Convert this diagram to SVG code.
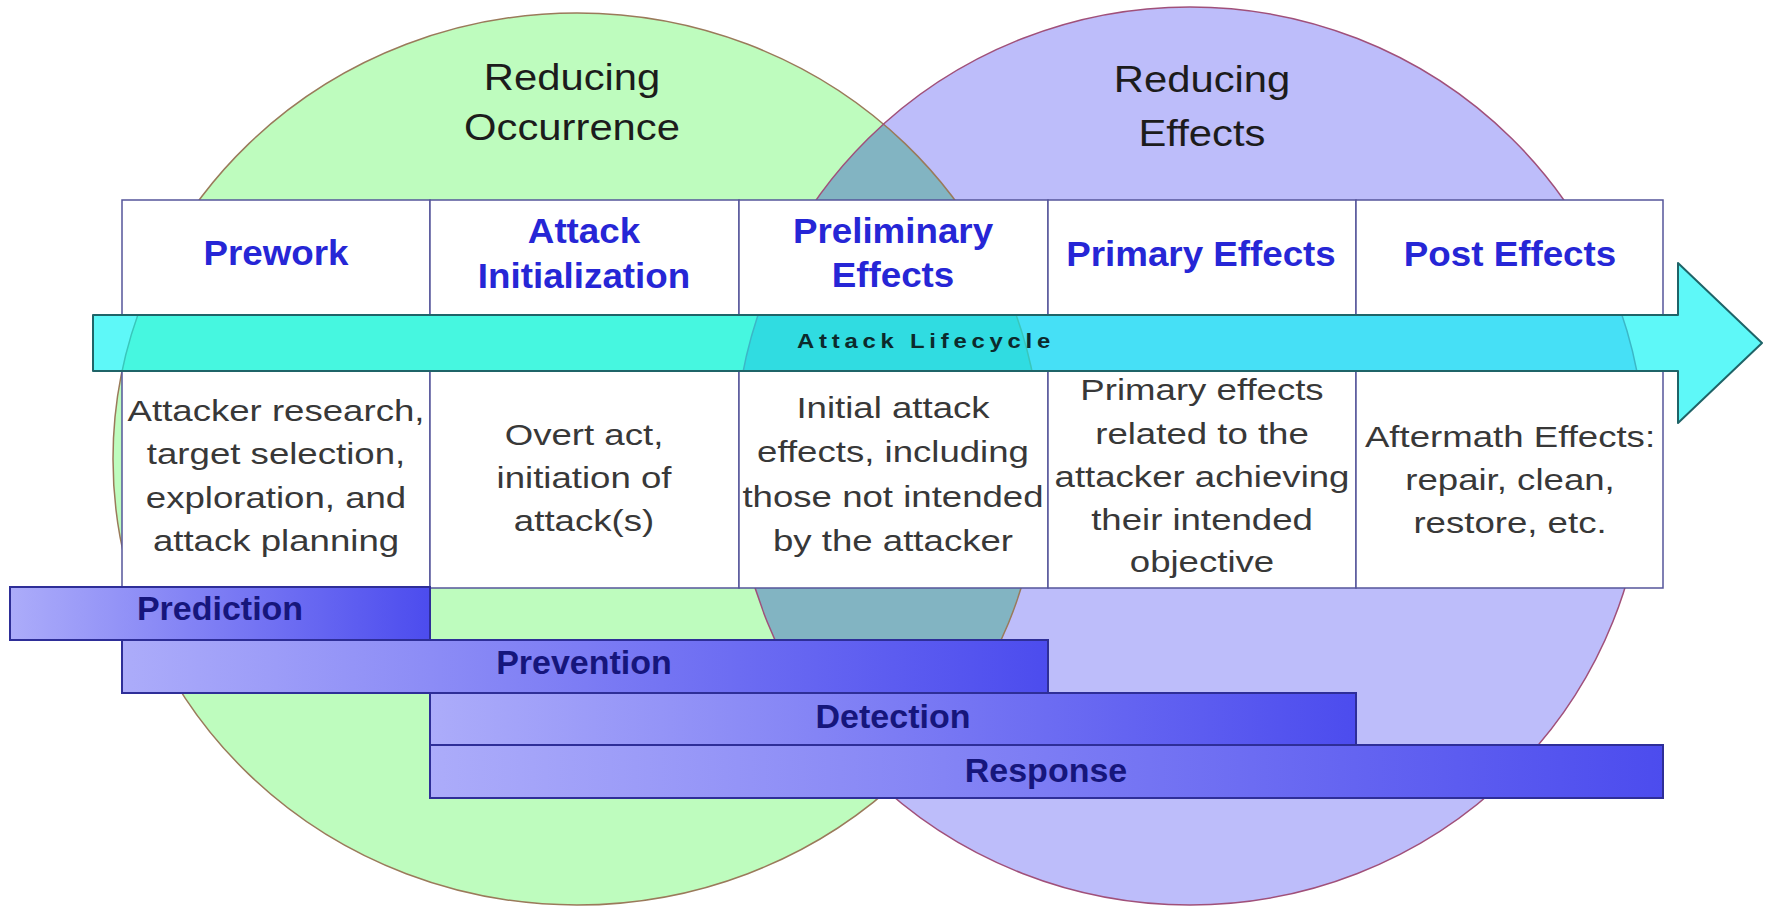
<svg xmlns="http://www.w3.org/2000/svg" width="1767" height="910" viewBox="0 0 1767 910">
<style>
text{font-family:"Liberation Sans",Arial,sans-serif}
.title{font-size:37px;fill:#1c1c1c;text-anchor:middle}
.hdr{font-size:35px;font-weight:bold;fill:#2626d6;text-anchor:middle}
.desc{font-size:30px;fill:#383838;text-anchor:middle}
.cell{fill:#ffffff;stroke:#55559a;stroke-width:1.5}
.bar{fill:url(#barGrad);stroke:#2e2e98;stroke-width:2}
.btxt{font-size:34px;font-weight:bold;fill:#16167c;text-anchor:middle}
</style>
<defs>
<linearGradient id="barGrad" x1="0" y1="0" x2="1" y2="0">
<stop offset="0" stop-color="#acacfa"/>
<stop offset="1" stop-color="#4c4cee"/>
</linearGradient>
<clipPath id="greenClip"><ellipse cx="577" cy="459" rx="464" ry="446"/></clipPath>
</defs>
<rect width="1767" height="910" fill="#ffffff"/>

<g id="reducing-occurrence">
<ellipse cx="577" cy="459" rx="464" ry="446" fill="#befcbe"/>
</g>
<g id="reducing-effects">
<ellipse cx="1190" cy="456" rx="455" ry="449" fill="#bdbdfa"/>
<ellipse cx="1190" cy="456" rx="455" ry="449" fill="#82b4c2" clip-path="url(#greenClip)"/>
<ellipse cx="577" cy="459" rx="464" ry="446" fill="none" stroke="#9a7a5a" stroke-width="1.5"/>
<ellipse cx="1190" cy="456" rx="455" ry="449" fill="none" stroke="#a0507a" stroke-width="1.5"/>
</g>
<g id="titles">
<g transform="translate(572 0) scale(1.13 1)">
<text class="title" x="0" y="90">Reducing</text>
<text class="title" x="0" y="140">Occurrence</text>
</g>
<g transform="translate(1202 0) scale(1.13 1)">
<text class="title" x="0" y="92">Reducing</text>
<text class="title" x="0" y="146">Effects</text>
</g>
</g>

<g id="col-prework">
<rect class="cell" x="122" y="200" width="308" height="115"/>
<rect class="cell" x="122" y="371" width="308" height="217"/>
<g transform="translate(276 0) scale(1.05 1)"><text class="hdr" x="0" y="265">Prework</text></g>
<g transform="translate(276 0) scale(1.22 1)">
<text class="desc" x="0" y="421">Attacker research,</text>
<text class="desc" x="0" y="464">target selection,</text>
<text class="desc" x="0" y="508">exploration, and</text>
<text class="desc" x="0" y="551">attack planning</text>
</g>
</g>
<g id="col-attack-initialization">
<rect class="cell" x="430" y="200" width="309" height="115"/>
<rect class="cell" x="430" y="371" width="309" height="217"/>
<g transform="translate(584 0) scale(1.05 1)">
<text class="hdr" x="0" y="243">Attack</text>
<text class="hdr" x="0" y="288">Initialization</text>
</g>
<g transform="translate(584 0) scale(1.22 1)">
<text class="desc" x="0" y="445">Overt act,</text>
<text class="desc" x="0" y="488">initiation of</text>
<text class="desc" x="0" y="531">attack(s)</text>
</g>
</g>
<g id="col-preliminary-effects">
<rect class="cell" x="739" y="200" width="309" height="115"/>
<rect class="cell" x="739" y="371" width="309" height="217"/>
<g transform="translate(893 0) scale(1.05 1)">
<text class="hdr" x="0" y="243">Preliminary</text>
<text class="hdr" x="0" y="287">Effects</text>
</g>
<g transform="translate(893 0) scale(1.22 1)">
<text class="desc" x="0" y="418">Initial attack</text>
<text class="desc" x="0" y="462">effects, including</text>
<text class="desc" x="0" y="507">those not intended</text>
<text class="desc" x="0" y="551">by the attacker</text>
</g>
</g>
<g id="col-primary-effects">
<rect class="cell" x="1048" y="200" width="308" height="115"/>
<rect class="cell" x="1048" y="371" width="308" height="217"/>
<g transform="translate(1201 0) scale(1.05 1)"><text class="hdr" x="0" y="266">Primary Effects</text></g>
<g transform="translate(1202 0) scale(1.22 1)">
<text class="desc" x="0" y="400">Primary effects</text>
<text class="desc" x="0" y="444">related to the</text>
<text class="desc" x="0" y="487">attacker achieving</text>
<text class="desc" x="0" y="530">their intended</text>
<text class="desc" x="0" y="572">objective</text>
</g>
</g>
<g id="col-post-effects">
<rect class="cell" x="1356" y="200" width="307" height="115"/>
<rect class="cell" x="1356" y="371" width="307" height="217"/>
<g transform="translate(1510 0) scale(1.05 1)"><text class="hdr" x="0" y="266">Post Effects</text></g>
<g transform="translate(1510 0) scale(1.22 1)">
<text class="desc" x="0" y="447">Aftermath Effects:</text>
<text class="desc" x="0" y="490">repair, clean,</text>
<text class="desc" x="0" y="533">restore, etc.</text>
</g>
</g>

<g id="attack-lifecycle">
<polygon points="93,315 1678,315 1678,263 1762,343 1678,423 1678,371 93,371" fill="#00f4f4" fill-opacity="0.63" stroke="#1f6468" stroke-width="2" stroke-linejoin="round"/>
<text x="797" y="348" font-size="20" font-weight="bold" fill="#0c2a2c" textLength="258" lengthAdjust="spacingAndGlyphs" letter-spacing="4">Attack Lifecycle</text>
</g>

<g id="bar-prediction">
<rect class="bar" x="10" y="587" width="420" height="53"/>
<text class="btxt" x="220" y="620">Prediction</text>
</g>
<g id="bar-prevention">
<rect class="bar" x="122" y="640" width="926" height="53"/>
<text class="btxt" x="584" y="674">Prevention</text>
</g>
<g id="bar-detection">
<rect class="bar" x="430" y="693" width="926" height="52"/>
<text class="btxt" x="893" y="728">Detection</text>
</g>
<g id="bar-response">
<rect class="bar" x="430" y="745" width="1233" height="53"/>
<text class="btxt" x="1046" y="782">Response</text>
</g>
<g id="connectors"/>
</svg>
